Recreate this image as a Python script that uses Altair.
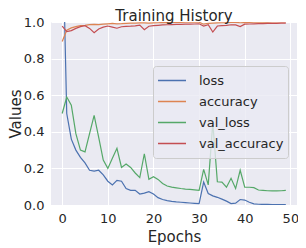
import altair as alt
import pandas as pd

epochs = list(range(50))
series_names = ["loss", "accuracy", "val_loss", "val_accuracy"]
series_colors = ["#4C72B0", "#DD8452", "#55A868", "#C44E52"]

loss = [1.6, 0.50, 0.36, 0.30, 0.26, 0.23, 0.19, 0.185, 0.19, 0.165,
        0.13, 0.11, 0.135, 0.13, 0.09, 0.08, 0.08, 0.06, 0.065, 0.073,
        0.06, 0.04, 0.03, 0.024, 0.02, 0.017, 0.015, 0.013, 0.011, 0.009,
        0.007, 0.125, 0.063, 0.05, 0.042, 0.032, 0.021, 0.008, 0.01, 0.03,
        0.027, 0.015, 0.006, 0.004, 0.003, 0.003, 0.002, 0.002, 0.002, 0.002]

accuracy = [0.893, 0.955, 0.968, 0.975, 0.980, 0.982, 0.986, 0.987, 0.986, 0.988,
            0.990, 0.992, 0.990, 0.991, 0.993, 0.994, 0.994, 0.995, 0.995, 0.994,
            0.995, 0.996, 0.997, 0.997, 0.998, 0.998, 0.998, 0.999, 0.999, 0.999,
            0.999, 0.988, 0.993, 0.994, 0.995, 0.996, 0.996, 0.998, 0.998, 0.996,
            0.997, 0.998, 0.999, 0.999, 0.999, 0.999, 1.0, 1.0, 1.0, 1.0]

val_loss = [0.50, 0.59, 0.545, 0.39, 0.30, 0.29, 0.39, 0.49, 0.37, 0.245,
            0.20, 0.255, 0.31, 0.205, 0.224, 0.205, 0.175, 0.15, 0.28, 0.14,
            0.155, 0.14, 0.118, 0.104, 0.098, 0.094, 0.09, 0.087, 0.085, 0.083,
            0.08, 0.195, 0.11, 0.45, 0.127, 0.125, 0.097, 0.146, 0.09, 0.19,
            0.097, 0.097, 0.095, 0.082, 0.08, 0.078, 0.077, 0.077, 0.078, 0.08]

val_accuracy = [0.977, 0.947, 0.953, 0.965, 0.975, 0.980, 0.965, 0.942, 0.962, 0.972,
                0.978, 0.972, 0.966, 0.974, 0.976, 0.977, 0.979, 0.983, 0.958, 0.977,
                0.980, 0.982, 0.984, 0.985, 0.986, 0.987, 0.987, 0.988, 0.988, 0.989,
                0.990, 0.978, 0.985, 0.945, 0.978, 0.980, 0.982, 0.985, 0.984, 0.975,
                0.988, 0.989, 0.990, 0.991, 0.991, 0.992, 0.992, 0.993, 0.994, 0.994]

x_ticks = [0, 10, 20, 30, 40, 50]
y_ticks = [0.0, 0.2, 0.4, 0.6, 0.8, 1.0]

wide = pd.DataFrame({"epoch": epochs, "loss": loss, "accuracy": accuracy,
                     "val_loss": val_loss, "val_accuracy": val_accuracy})
df = wide.melt(id_vars="epoch", var_name="series", value_name="value")

FONT = "DejaVu Sans"
TXT = "#262626"

chart = alt.Chart(df).mark_line(clip=True, strokeWidth=1.2).encode(
    x=alt.X("epoch:Q",
            scale=alt.Scale(domain=[-2.45, 51.45], nice=False, zero=False),
            axis=alt.Axis(values=x_ticks, title="Epochs", labelPadding=7,
                          titleY=36, titleBaseline="alphabetic")),
    y=alt.Y("value:Q",
            scale=alt.Scale(domain=[0, 1], nice=False),
            axis=alt.Axis(values=y_ticks, format=".1f", title="Values", labelPadding=7,
                          titleX=-31, titleBaseline="alphabetic")),
    color=alt.Color("series:N",
                    scale=alt.Scale(domain=series_names, range=series_colors),
                    legend=alt.Legend(title=None, orient="none", legendX=102, legendY=44,
                                      symbolType="stroke", symbolSize=784,
                                      symbolStrokeWidth=1.5, labelFontSize=13,
                                      labelFont=FONT, labelColor=TXT, padding=4,
                                      fillColor="rgba(234,234,242,0.8)",
                                      strokeColor="#cccccc", cornerRadius=3,
                                      rowPadding=0, clipHeight=21, labelOffset=12)),
    detail="series:N",
    order="epoch:Q",
).properties(
    width=246,
    height=183,
    autosize=alt.AutoSizeParams(type="none"),
    padding={"left": 43, "top": 14, "right": 1, "bottom": 40},
    title=alt.TitleParams("Training History", fontSize=15, font=FONT,
                          fontWeight="normal", color=TXT, anchor="middle",
                          offset=3, dy=11),
).configure_view(
    fill="#EAEAF2", stroke=None
).configure_axis(
    grid=True, gridColor="white", gridWidth=1, domain=False, ticks=False, tickSize=0,
    labelFont=FONT, labelFontSize=13, labelColor=TXT,
    titleFont=FONT, titleFontSize=15, titleColor=TXT, titleFontWeight="normal",
)

chart.save("out.html", embed_options={"renderer": "svg", "actions": False})
